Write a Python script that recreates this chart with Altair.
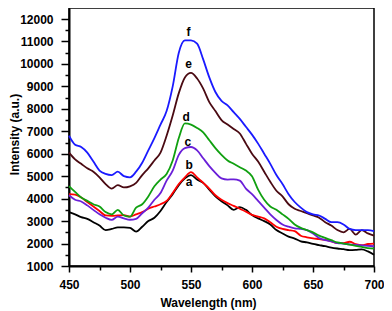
import altair as alt
import pandas as pd

wavelength = list(range(450, 701, 5))

a_vals = [3400, 3300, 3180, 3100, 2950, 2800, 2600, 2650, 2720, 2720,
          2700, 2530, 2750, 3000, 3150, 3450, 3850, 4200, 4600, 4900,
          5050, 4850, 4700, 4400, 4100, 3880, 3700, 3500, 3620, 3500,
          3270, 3120, 3000, 2850, 2600, 2450, 2310, 2220, 2100, 2050,
          1980, 1930, 1880, 1820, 1780, 1750, 1710, 1720, 1740, 1650, 1500]
b_vals = [4200, 4180, 4050, 3850, 3650, 3450, 3250, 3230, 3250, 3270,
          3200, 3300, 3400, 3550, 3650, 3750, 3900, 4250, 4650, 4950,
          5180, 4950, 4700, 4450, 4150, 3950, 3800, 3680, 3550, 3420,
          3280, 3200, 3120, 2950, 2750, 2650, 2600, 2550, 2350, 2280,
          2230, 2200, 2160, 2100, 2020, 2020, 2080, 1980, 1930, 1980, 2000]
c_vals = [4150, 3950, 3870, 3700, 3500, 3300, 3150, 3050, 3200, 3120,
          3060, 3100, 3350, 3600, 3950, 4250, 4800, 5250, 5950, 6250,
          6300, 6150, 5800, 5450, 5150, 4900, 4850, 4860, 4800, 4450,
          4200, 3900, 3600, 3300, 3050, 2850, 2750, 2680, 2650, 2600,
          2450, 2250, 2150, 2100, 2020, 2000, 1960, 1940, 1920, 1900, 1880]
d_vals = [4550, 4300, 4050, 3900, 3750, 3650, 3400, 3300, 3500, 3250,
          3200, 3600, 3750, 4100, 4550, 4850, 5100, 5700, 6700, 7350,
          7300, 7150, 6950, 6600, 6250, 5950, 5700, 5550, 5400, 5250,
          5000, 4400, 3950, 3650, 3500, 3300, 3100, 2850, 2700, 2600,
          2500, 2350, 2250, 2150, 2050, 2000, 1950, 1900, 1850, 1800, 1780]
e_vals = [6050, 5750, 5550, 5350, 5200, 4950, 4650, 4450, 4600, 4500,
          4550, 4700, 5050, 5350, 5700, 6050, 6800, 7700, 8700, 9400,
          9600, 9350, 8900, 8300, 7900, 7500, 7300, 7100, 6900, 6450,
          6000, 5650, 5200, 4750, 4350, 4100, 3750, 3550, 3450, 3350,
          3250, 3150, 2950, 2800, 2600, 2500, 2650, 2400, 2600, 2450, 2350]
f_vals = [6800, 6400, 6300, 6050, 5650, 5250, 5100, 5050, 5200, 5000,
          4950, 5200, 5600, 6150, 6700, 7300, 7900, 9000, 10500, 11050,
          11050, 10900, 10200, 9400, 8750, 8350, 8150, 7850, 7550, 7200,
          6850, 6450, 6000, 5550, 5050, 4650, 4200, 3850, 3600, 3400,
          3300, 3250, 3100, 2950, 2950, 2850, 2650, 2600, 2600, 2600, 2550]

series_names = ["a", "b", "c", "d", "e", "f"]
series_colors = ["#000000", "#ff0000", "#6a1fd8", "#10a010", "#4a0a12", "#1a1aff"]

label_wl = [548.5, 548.5, 547.5, 546, 548, 548]
label_int = [4740, 5500, 6520, 7640, 10000, 11420]

x_major = [450, 500, 550, 600, 650, 700]
x_minor = [475, 525, 575, 625, 675]
y_major = list(range(1000, 12001, 1000))
y_minor = list(range(1500, 12001, 1000))

frames = []
for name, vals in zip(series_names, [a_vals, b_vals, c_vals, d_vals, e_vals, f_vals]):
    frames.append(pd.DataFrame({"wl": wavelength, "I": vals, "series": name}))
df = pd.concat(frames, ignore_index=True)
labels_df = pd.DataFrame({"wl": label_wl, "I": label_int, "series": series_names})

xscale = alt.Scale(domain=[450, 700], nice=False, zero=False)
yscale = alt.Scale(domain=[1000, 12490], nice=False, zero=False)

lines = alt.Chart(df).mark_line(strokeWidth=1.8, interpolate="monotone").encode(
    x=alt.X("wl:Q", scale=xscale, axis=alt.Axis(
        values=x_major, orient="bottom", title="Wavelength (nm)", format="d",
        tickSize=6, labelPadding=7, labelFlush=False, titleX=139, titleY=36,
        titleBaseline="middle", titleAlign="center")),
    y=alt.Y("I:Q", scale=yscale, axis=alt.Axis(
        values=y_major, orient="left", title="Intensity (a.u.)", format="d",
        tickSize=8, labelPadding=8, labelFlush=False, titleX=-55, titleY=126,
        titleAngle=270, titleAlign="center", titleBaseline="middle")),
    color=alt.Color("series:N", scale=alt.Scale(domain=series_names, range=series_colors), legend=None),
    detail="series:N",
)

minor = alt.Chart(df).mark_line(opacity=0).encode(
    x=alt.X("wl:Q", scale=xscale, axis=alt.Axis(
        values=x_minor, orient="bottom", labels=False, domain=False, title=None, tickSize=4)),
    y=alt.Y("I:Q", scale=yscale, axis=alt.Axis(
        values=y_minor, orient="left", labels=False, domain=False, title=None, tickSize=4)),
    detail="series:N",
)

texts = alt.Chart(labels_df).mark_text(
    font="Liberation Sans", fontWeight="bold", fontSize=12, color="black", baseline="middle"
).encode(
    x=alt.X("wl:Q", scale=xscale, axis=None),
    y=alt.Y("I:Q", scale=yscale, axis=None),
    text="series:N",
)

chart = alt.layer(lines, minor, texts).resolve_axis(x="independent", y="independent").properties(
    width=305, height=258,
    autosize=alt.AutoSizeParams(type="none"),
    padding={"left": 61, "top": 0, "right": 10, "bottom": 45},
    background="white",
).configure_axis(
    grid=False,
    labelFont="Liberation Sans", labelFontWeight="bold", labelFontSize=12, labelColor="black",
    titleFont="Liberation Sans", titleFontWeight="bold", titleFontSize=12, titleColor="black",
    tickColor="black", tickWidth=1.5, domainColor="black", domainWidth=2,
).configure_view(stroke="black", strokeWidth=1.5)

chart.save("out.html", embed_options={"renderer": "svg", "actions": False})
